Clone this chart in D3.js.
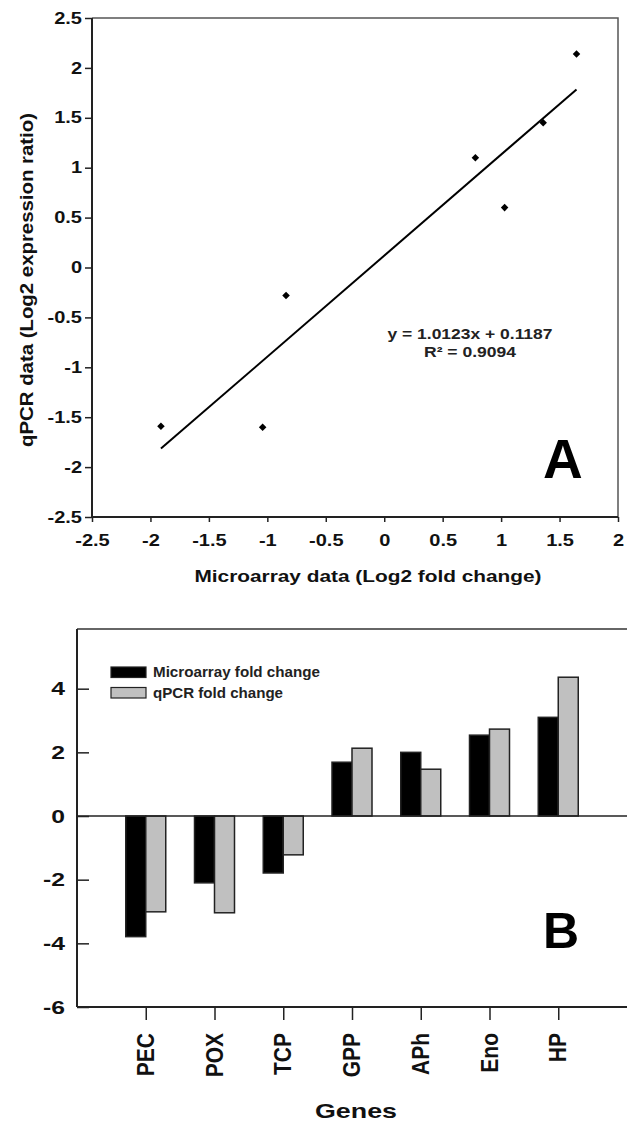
<!DOCTYPE html>
<html>
<head>
<meta charset="utf-8">
<script src="https://cdn.jsdelivr.net/npm/d3@7"></script>
<style>
  body { margin: 0; background: #fff; }
  svg { display: block; font-family: "Liberation Sans", Arial, sans-serif; font-weight: bold; }
</style>
</head>
<body>
<div id="chart"></div>
<script>
// Panel A data: microarray vs qPCR log2 values
const microX = [-1.91, -1.04, -0.84, 0.78, 1.03, 1.36, 1.645];
const qpcrY = [-1.59, -1.60, -0.28, 1.10, 0.60, 1.45, 2.14];
const fitSlope = 1.0123;
const fitIntercept = 0.1187;
const xTicksA = [-2.5, -2, -1.5, -1, -0.5, 0, 0.5, 1, 1.5, 2];
const yTicksA = [-2.5, -2, -1.5, -1, -0.5, 0, 0.5, 1, 1.5, 2, 2.5];

// Panel B data: fold changes per gene
const genes = ["PEC", "POX", "TCP", "GPP", "APh", "Eno", "HP"];
const microFold = [-3.79, -2.10, -1.79, 1.69, 2.00, 2.54, 3.10];
const qpcrFold = [-3.01, -3.04, -1.22, 2.13, 1.47, 2.73, 4.36];
const seriesNames = ["Microarray fold change", "qPCR fold change"];
const seriesColors = ["#000000", "#c0c0c0"];
const yTicksB = [-6, -4, -2, 0, 2, 4];

const width = 627, height = 1123;
const svg = d3.select("#chart").append("svg")
  .attr("width", width).attr("height", height);

// plain hyphen minus, like the source
const plain = d => String(d);

// stretch text horizontally like the (widened) source picture
function stretch(sel, k) {
  sel.each(function() {
    const w = this.getComputedTextLength();
    d3.select(this).attr("textLength", w * k).attr("lengthAdjust", "spacingAndGlyphs");
  });
}

// ---------- Panel A ----------
const a = {left: 92, right: 618, top: 18, bottom: 517};
const xA = d3.scaleLinear().domain([-2.5, 2]).range([a.left, a.right]);
const yA = d3.scaleLinear().domain([-2.5, 2.5]).range([a.bottom, a.top]);

// frame (top + right)
svg.append("path")
  .attr("d", `M${a.left},${a.top}H${a.right}V${a.bottom}`)
  .attr("fill", "none").attr("stroke", "#555").attr("stroke-width", 1.5);

const axA = svg.append("g")
  .attr("transform", `translate(0,${a.bottom})`)
  .call(d3.axisBottom(xA).tickValues(xTicksA).tickSize(5).tickPadding(13).tickFormat(plain));
const ayA = svg.append("g")
  .attr("transform", `translate(${a.left},0)`)
  .call(d3.axisLeft(yA).tickValues(yTicksA).tickSize(7).tickPadding(3).tickFormat(plain));

[axA, ayA].forEach(g => {
  g.select(".domain").attr("stroke", "#222").attr("stroke-width", 2);
  g.selectAll(".tick line").attr("stroke", "#222").attr("stroke-width", 1.5);
  g.selectAll("text").attr("fill", "#111").style("font-size", "16px")
    .style("font-family", "'Liberation Sans', Arial, sans-serif").style("font-weight", "bold");
  stretch(g.selectAll("text"), 1.25);
});
axA.select(".domain").attr("d", `M${a.left},0H${a.right}`);
ayA.select(".domain").attr("d", `M0,${a.bottom}V${a.top}`);

// regression line over the data range
const xMin = d3.min(microX), xMax = d3.max(microX);
svg.append("line")
  .attr("x1", xA(xMin)).attr("y1", yA(fitSlope * xMin + fitIntercept))
  .attr("x2", xA(xMax)).attr("y2", yA(fitSlope * xMax + fitIntercept))
  .attr("stroke", "#000").attr("stroke-width", 2);

// points
svg.selectAll(".pt")
  .data(microX)
  .enter()
  .append("path")
  .attr("class", "pt")
  .attr("d", d3.symbol().type(d3.symbolDiamond2).size(36))
  .attr("transform", (d, i) => `translate(${xA(d)},${yA(qpcrY[i])})`)
  .attr("fill", "#000");

// equation
svg.append("text").attr("x", 470).attr("y", 339).attr("text-anchor", "middle")
  .style("font-size", "15px").attr("fill", "#222")
  .attr("textLength", 165).attr("lengthAdjust", "spacingAndGlyphs")
  .text("y = 1.0123x + 0.1187");
svg.append("text").attr("x", 470).attr("y", 357).attr("text-anchor", "middle")
  .style("font-size", "15px").attr("fill", "#222")
  .attr("textLength", 92).attr("lengthAdjust", "spacingAndGlyphs")
  .text("R² = 0.9094");

svg.append("text").attr("x", 543).attr("y", 478)
  .style("font-size", "55px").attr("fill", "#000").text("A");

// axis titles
svg.append("text").attr("x", 368).attr("y", 582).attr("text-anchor", "middle")
  .style("font-size", "16px").attr("fill", "#111")
  .attr("textLength", 347).attr("lengthAdjust", "spacingAndGlyphs")
  .text("Microarray data (Log2 fold change)");
svg.append("text").attr("transform", "translate(33,280) rotate(-90)")
  .attr("text-anchor", "middle")
  .style("font-size", "18px").attr("fill", "#111")
  .attr("textLength", 334).attr("lengthAdjust", "spacingAndGlyphs")
  .text("qPCR data (Log2 expression ratio)");

// ---------- Panel B ----------
const b = {left: 77, right: 627, top: 629, bottom: 1007};
const xB = d3.scalePoint().domain(genes).range([b.left, b.right]).padding(1);
const subB = d3.scaleBand().domain(seriesNames).range([-20, 20]);
const yB = d3.scaleLinear().domain([-6, 5.875]).range([b.bottom, b.top]);

svg.append("line").attr("x1", b.left).attr("x2", b.right)
  .attr("y1", b.top).attr("y2", b.top)
  .attr("stroke", "#333").attr("stroke-width", 1.5);

// bars
const barRows = genes.map((g, i) => [
  {gene: g, s: seriesNames[0], v: microFold[i], c: seriesColors[0]},
  {gene: g, s: seriesNames[1], v: qpcrFold[i], c: seriesColors[1]}
]).flat();

svg.selectAll(".bar")
  .data(barRows)
  .enter()
  .append("rect")
  .attr("class", "bar")
  .attr("x", d => xB(d.gene) + subB(d.s))
  .attr("width", subB.bandwidth())
  .attr("y", d => yB(Math.max(0, d.v)))
  .attr("height", d => Math.abs(yB(d.v) - yB(0)))
  .attr("fill", d => d.c)
  .attr("stroke", "#222").attr("stroke-width", 1.5);

// zero line
svg.append("line").attr("x1", b.left).attr("x2", b.right)
  .attr("y1", yB(0)).attr("y2", yB(0))
  .attr("stroke", "#222").attr("stroke-width", 1.5);

const ayB = svg.append("g")
  .attr("transform", `translate(${b.left},0)`)
  .call(d3.axisLeft(yB).tickValues(yTicksB).tickSizeInner(-12).tickSizeOuter(0).tickPadding(12).tickFormat(plain));
ayB.select(".domain").attr("d", `M0,${b.top}V${b.bottom}`);

const axB = svg.append("g")
  .attr("transform", `translate(0,${b.bottom})`)
  .call(d3.axisBottom(xB).tickSize(13).tickFormat(""));
axB.select(".domain").attr("d", `M${b.left},0H${b.right}`);

[axB, ayB].forEach(g => {
  g.select(".domain").attr("stroke", "#222").attr("stroke-width", 2);
  g.selectAll(".tick line").attr("stroke", "#222").attr("stroke-width", 1.5);
});
ayB.selectAll("text").attr("fill", "#111").style("font-size", "19px")
  .style("font-family", "'Liberation Sans', Arial, sans-serif").style("font-weight", "bold");
stretch(ayB.selectAll("text"), 1.3);

// gene labels, rotated
svg.selectAll(".gene")
  .data(genes)
  .enter()
  .append("text")
  .attr("class", "gene")
  .attr("transform", d => `translate(${xB(d) + 8},1033) scale(1.15,1) rotate(-90)`)
  .attr("text-anchor", "end")
  .style("font-size", "21px").attr("fill", "#111")
  .text(d => d);

svg.append("text").attr("x", 356).attr("y", 1118).attr("text-anchor", "middle")
  .style("font-size", "21px").attr("fill", "#111")
  .attr("textLength", 82).attr("lengthAdjust", "spacingAndGlyphs")
  .text("Genes");

svg.append("text").attr("x", 543).attr("y", 948)
  .style("font-size", "50px").attr("fill", "#000").text("B");

// legend
const legendLen = [167, 130];
const legend = svg.append("g");
legend.selectAll("rect")
  .data(seriesNames)
  .enter()
  .append("rect")
  .attr("x", 111).attr("y", (d, i) => 667 + i * 20.5)
  .attr("width", 35).attr("height", 10.5)
  .attr("fill", (d, i) => seriesColors[i])
  .attr("stroke", "#222").attr("stroke-width", 1.2);
legend.selectAll("text")
  .data(seriesNames)
  .enter()
  .append("text")
  .attr("x", 153).attr("y", (d, i) => 677 + i * 20.5)
  .style("font-size", "15px").attr("fill", "#222")
  .attr("textLength", (d, i) => legendLen[i]).attr("lengthAdjust", "spacingAndGlyphs")
  .text(d => d);
</script>
</body>
</html>
